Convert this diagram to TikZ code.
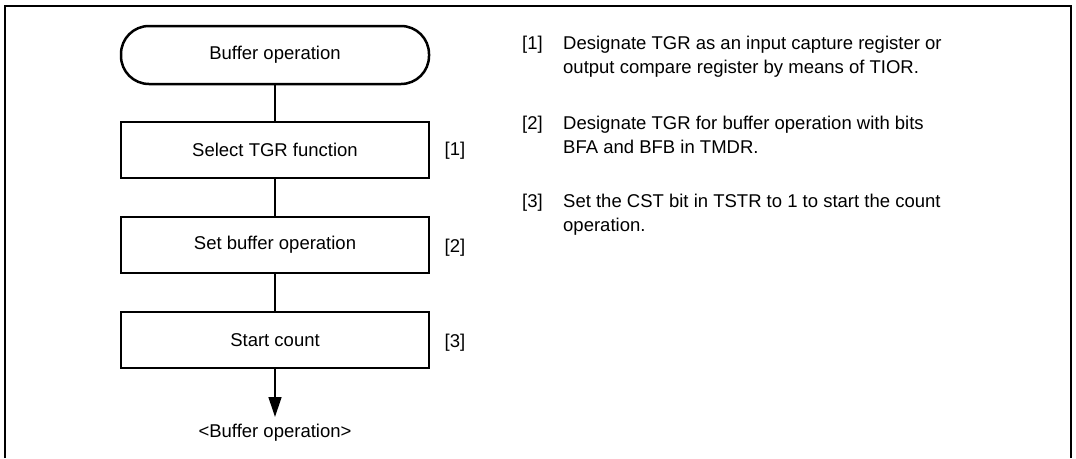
\documentclass[tikz,border=0pt]{standalone}
\usepackage{fontspec}
\setmainfont{Liberation Sans}
\usetikzlibrary{arrows.meta}
\begin{document}
\begin{tikzpicture}[x=1pt,y=-1pt,
  every node/.style={font=\fontsize{18.5}{23.5}\selectfont, inner sep=0pt},
  stepbox/.style={draw, line width=2.5pt, minimum width=308pt, minimum height=56pt},
  termbox/.style={draw, line width=2.5pt, minimum width=308pt, minimum height=58pt, rounded corners=28pt},
  conn/.style={line width=1.3pt},
  txt/.style={anchor=base west}]
\useasboundingbox (0,0) rectangle (1076,458);
% frame
\draw[line width=2pt] (5,458) -- (5,6) -- (1071,6) -- (1071,458);
% flowchart
\node[termbox] (t0) at (275,55) {Buffer operation};
\node[stepbox] (s1) at (275,150) {Select TGR function};
\node[stepbox] (s2) at (275,245) {Set buffer operation};
\node[stepbox] (s3) at (275,340) {Start count};
\coordinate (e) at (275,417);
\draw[conn] (t0) -- (s1);
\draw[conn] (s1) -- (s2);
\draw[conn] (s2) -- (s3);
\draw[conn, -{Triangle[width=13pt,length=20pt]}] (s3) -- (e);
\node (out) at (275,433) {<Buffer operation>};
\node (l1) at (455,151) {[1]};
\node (l2) at (455,248) {[2]};
\node (l3) at (455,343) {[3]};
% descriptions
\node[txt] (n1) at (522,49) {[1]};
\node[txt] (d1a) at (563,49) {Designate TGR as an input capture register or};
\node[txt] (d1b) at (563,73) {output compare register by means of TIOR.};
\node[txt] (n2) at (522,129) {[2]};
\node[txt] (d2a) at (563,129) {Designate TGR for buffer operation with bits};
\node[txt] (d2b) at (563,153) {BFA and BFB in TMDR.};
\node[txt] (n3) at (522,207) {[3]};
\node[txt] (d3a) at (563,207) {Set the CST bit in TSTR to 1 to start the count};
\node[txt] (d3b) at (563,231) {operation.};
\end{tikzpicture}
\end{document}
